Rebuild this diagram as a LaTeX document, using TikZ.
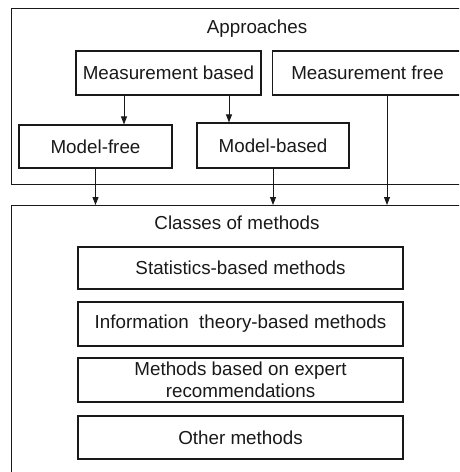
\documentclass[tikz,border=0pt]{standalone}
\usepackage{fontspec}
\setmainfont{Liberation Sans}
\usetikzlibrary{arrows.meta}
\begin{document}
\begin{tikzpicture}[x=1pt,y=-1pt,
  txt/.style={font=\fontsize{18.8}{22.5}\selectfont, text=black!90},
  box/.style={draw=black!90, line width=1.1pt, inner sep=0pt, txt, align=center},
  outer/.style={draw=black!90, line width=1.4pt, inner sep=0pt, anchor=north west},
  arr/.style={draw=black!90, line width=0.9pt, -{Triangle[width=6pt,length=8pt]}}]
\useasboundingbox (0,0) rectangle (459,472);
\clip (0,0) rectangle (459,472);
% outer containers
\node[outer, minimum width=470pt, minimum height=176pt] (appr) at (11,8) {};
\node[outer, minimum width=470pt, minimum height=290pt] (cls) at (11,205) {};
\node[txt] (apprt) at (257,29) {Approaches};
\node[txt] (clst) at (237,223) {Classes of methods};
% approach boxes
\node[box, minimum width=185pt, minimum height=44pt] (mb) at (168.5,73) {Measurement based};
\node[box, minimum width=190pt, minimum height=44pt, anchor=west] (mfr) at (272,73) {Measurement free};
\node[box, minimum width=153pt, minimum height=43pt] (mf) at (95.5,146.5) {Model-free};
\node[box, minimum width=152pt, minimum height=45pt] (mod) at (273,145.5) {Model-based};
% class boxes
\node[box, minimum width=325pt, minimum height=42pt] (st) at (240.5,268) {Statistics-based methods};
\node[box, minimum width=325pt, minimum height=44pt] (inf) at (240.5,324) {Information~ theory-based methods};
\node[box, minimum width=325pt, minimum height=44pt] (exp) at (240.5,380) {Methods based on expert\\recommendations};
\node[box, minimum width=325pt, minimum height=43pt] (oth) at (240.5,437.5) {Other methods};
% connectors
\draw[arr] (mb.south -| 124,0) -- (mf.north -| 124,0);
\draw[arr] (mb.south -| 229,0) -- (mod.north -| 229,0);
\draw[arr] (mf.south) -- (mf.south |- cls.north);
\draw[arr] (mod.south) -- (mod.south |- cls.north);
\draw[arr] (mfr.south -| 387,0) -- (cls.north -| 387,0);
\end{tikzpicture}
\end{document}
